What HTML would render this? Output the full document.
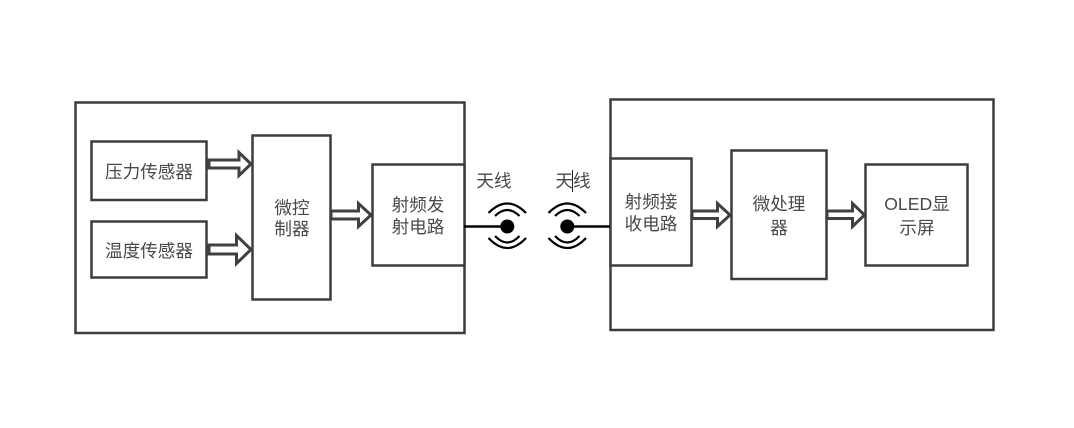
<!DOCTYPE html>
<html lang="zh">
<head>
<meta charset="utf-8">
<style>
html,body{margin:0;padding:0;background:#fff;width:1074px;height:428px;overflow:hidden}
svg{display:block}
text{font-family:"Liberation Sans","Noto Sans CJK SC",sans-serif;font-size:17.6px;fill:#484848;text-anchor:middle;dominant-baseline:central}
.b{fill:#fff;stroke:#3c3c3c;stroke-width:2.5}
.a{fill:#fff;stroke:#404040;stroke-width:3;stroke-linejoin:miter}
.w{fill:none;stroke:#000;stroke-width:2.2}
</style>
</head>
<body>
<svg width="1074" height="428" viewBox="0 0 1074 428" xmlns="http://www.w3.org/2000/svg">
<defs><filter id="s" filterUnits="userSpaceOnUse" x="0" y="0" width="1074" height="428"><feGaussianBlur stdDeviation="0.35"/></filter></defs>
<rect width="1074" height="428" fill="#fff"/>
<g filter="url(#s)">
<rect class="b" x="75.500" y="102.500" width="389" height="230.500"/>
<rect class="b" x="610.500" y="99.500" width="383" height="230.500"/>
<rect class="b" x="91.500" y="141.500" width="115" height="58.500"/>
<rect class="b" x="91.500" y="221.500" width="115" height="56"/>
<path class="a" d="M209 160H239V152.500L251 164L239 175.500V168H209Z"/>
<path class="a" d="M209 245H236.500V235.500L251 249.500L236.500 263.500V254H209Z"/>
<path class="a" d="M331 211H358.500V203.500L371 215L358.500 226.500V219H331Z"/>
<path class="a" d="M692 211H717.500V203.500L730 215L717.500 226.500V218.500H692Z"/>
<path class="a" d="M827 211H852.500V203.500L864.500 215L852.500 226.500V218.500H827Z"/>
<rect class="b" x="252.500" y="135.500" width="78" height="164"/>
<rect class="b" x="372.500" y="164.500" width="92" height="101"/>
<rect class="b" x="610.500" y="158.500" width="81" height="107"/>
<rect class="b" x="731.500" y="150.500" width="95" height="128.500"/>
<rect class="b" x="865.500" y="164.500" width="102" height="101"/>
<path class="w" style="stroke-width:2.4" d="M464 226.500H507M567 226.500H610"/>
<circle cx="507.300" cy="226.500" r="7" fill="#000"/>
<circle cx="567.300" cy="226.500" r="7" fill="#000"/>
<path class="w" d="M488.500 213Q507.300 194 526 213M495 216Q507.300 204 519.500 216M488.500 238Q507.300 258 526 238M495 236Q507.300 249 519.500 236"/>
<path class="w" d="M548.500 213Q567.300 194 586 213M555 216Q567.300 204 579.500 216M548.500 238Q567.300 258 586 238M555 236Q567.300 249 579.500 236"/>
<path d="M572.500 170V192" stroke="#222" stroke-width="1" fill="none"/>
<text x="149" y="172">压力传感器</text>
<text x="149" y="251">温度传感器</text>
<text x="292" y="208">微控</text>
<text x="292" y="229">制器</text>
<text x="418" y="205">射频发</text>
<text x="418" y="227">射电路</text>
<text x="494" y="181">天线</text>
<text x="573" y="181">天线</text>
<text x="651" y="202">射频接</text>
<text x="651" y="224">收电路</text>
<text x="779" y="204">微处理</text>
<text x="779" y="228">器</text>
<text x="917" y="204">OLED显</text>
<text x="917" y="228">示屏</text>
</g>
</svg>
</body>
</html>
